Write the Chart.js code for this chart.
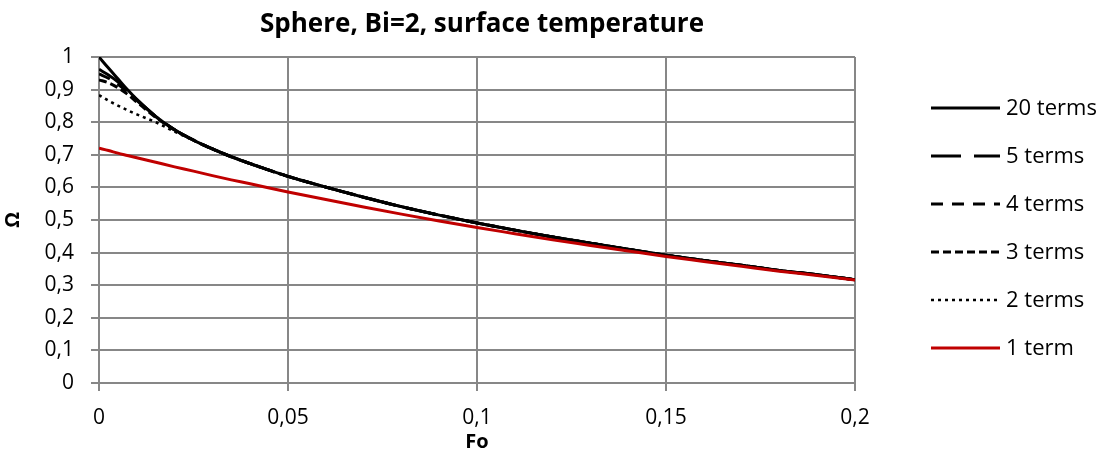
<!DOCTYPE html>
<html>
<head>
<meta charset="utf-8">
<script src="https://cdn.jsdelivr.net/npm/chart.js@4.4.1/dist/chart.umd.min.js"></script>
<style>
  html, body { margin: 0; padding: 0; background: #fff; }
  #wrap { width: 1106px; height: 452px; }
</style>
</head>
<body>
<div id="wrap"><canvas id="chart" width="1106" height="452"></canvas></div>
<script>
// Sphere, Bi=2 - surface temperature vs Fo, truncated series
const foValues = [0, 0.0025, 0.005, 0.0075, 0.01, 0.015, 0.02, 0.025, 0.03, 0.035, 0.04, 0.05,
  0.06, 0.07, 0.08, 0.09, 0.1, 0.11, 0.12, 0.13, 0.14, 0.15, 0.16, 0.17, 0.18, 0.19, 0.2];

const terms20 = [1.0, 0.966, 0.933, 0.900, 0.870, 0.818, 0.777, 0.745, 0.718, 0.694, 0.673, 0.634,
  0.601, 0.570, 0.541, 0.515, 0.491, 0.469, 0.448, 0.429, 0.410, 0.392, 0.376, 0.361, 0.345, 0.332, 0.317];
const terms5 = [0.962, 0.945, 0.924, 0.897, 0.869, 0.818, 0.777, 0.745, 0.718, 0.694, 0.673, 0.634,
  0.601, 0.570, 0.541, 0.515, 0.491, 0.469, 0.448, 0.429, 0.410, 0.392, 0.376, 0.361, 0.345, 0.332, 0.317];
const terms4 = [0.948, 0.935, 0.916, 0.893, 0.867, 0.817, 0.777, 0.745, 0.718, 0.694, 0.673, 0.634,
  0.601, 0.570, 0.541, 0.515, 0.491, 0.469, 0.448, 0.429, 0.410, 0.392, 0.376, 0.361, 0.345, 0.332, 0.317];
const terms3 = [0.930, 0.921, 0.906, 0.886, 0.862, 0.815, 0.776, 0.745, 0.718, 0.694, 0.673, 0.634,
  0.601, 0.570, 0.541, 0.515, 0.491, 0.469, 0.448, 0.429, 0.410, 0.392, 0.376, 0.361, 0.345, 0.332, 0.317];
const terms2 = [0.883, 0.866, 0.851, 0.837, 0.824, 0.800, 0.771, 0.744, 0.717, 0.694, 0.672, 0.633,
  0.601, 0.570, 0.541, 0.515, 0.491, 0.469, 0.448, 0.429, 0.410, 0.392, 0.376, 0.361, 0.345, 0.332, 0.317];
const terms1 = [0.720, 0.713, 0.705, 0.698, 0.691, 0.677, 0.663, 0.650, 0.636, 0.623, 0.611, 0.586,
  0.563, 0.540, 0.518, 0.497, 0.477, 0.458, 0.439, 0.422, 0.405, 0.388, 0.373, 0.358, 0.343, 0.330, 0.316];

const seriesLabels = ['20 terms', '5 terms', '4 terms', '3 terms', '2 terms', '1 term'];
const seriesValues = [terms20, terms5, terms4, terms3, terms2, terms1];
const seriesDash = [[], [30, 13], [12, 9], [8, 4], [3, 4], []];
const seriesColor = ['#000000', '#000000', '#000000', '#000000', '#000000', '#C00000'];

const FONT = '"Open Sans", "Liberation Sans", sans-serif';
const GRID = '#878787';

function toPoints(values) {
  return foValues.map((fo, i) => ({ x: fo, y: values[i] }));
}

function commaNum(v) {
  return String(Math.round(v * 100) / 100).replace('.', ',');
}

const datasets = seriesLabels.map((label, i) => ({
  label: label,
  data: toPoints(seriesValues[i]),
  borderColor: seriesColor[i],
  backgroundColor: seriesColor[i],
  borderWidth: i === 4 ? 2.6 : 3,
  borderDash: seriesDash[i],
  pointRadius: 0,
  fill: false,
  cubicInterpolationMode: 'monotone',
  order: seriesLabels.length - i
}));

// title + legend drawn by hand, Excel style
const textPlugin = {
  id: 'textPlugin',
  afterDraw(chart) {
    const ctx = chart.ctx;
    ctx.save();
    ctx.fillStyle = '#000';
    ctx.font = 'bold 26px ' + FONT;
    ctx.textAlign = 'center';
    ctx.textBaseline = 'middle';
    ctx.fillText('Sphere, Bi=2, surface temperature', 482, 25);

    ctx.font = '22px ' + FONT;
    ctx.textAlign = 'left';
    chart.data.datasets.forEach((ds, i) => {
      const y = 108 + i * 48;
      ctx.beginPath();
      ctx.strokeStyle = ds.borderColor;
      ctx.lineWidth = ds.borderWidth;
      ctx.setLineDash(ds.borderDash || []);
      ctx.moveTo(931, y);
      ctx.lineTo(1000, y);
      ctx.stroke();
      ctx.setLineDash([]);
      ctx.fillText(ds.label, 1006, y + 1);
    });
    ctx.restore();
  }
};

new Chart(document.getElementById('chart'), {
  type: 'line',
  data: { datasets: datasets },
  plugins: [textPlugin],
  options: {
    responsive: false,
    animation: false,
    layout: { padding: { top: 57, right: 251, left: 0, bottom: 0 } },
    plugins: {
      legend: { display: false },
      title: { display: false },
      tooltip: { enabled: false }
    },
    scales: {
      x: {
        type: 'linear',
        min: 0,
        max: 0.2,
        afterFit: scale => { scale.height = 69; },
        ticks: {
          stepSize: 0.05,
          color: '#000',
          font: { family: FONT, size: 21 },
          padding: 14,
          maxRotation: 0,
          callback: v => commaNum(v)
        },
        grid: { color: GRID, lineWidth: 2, tickLength: 8 },
        border: { color: GRID, width: 2 },
        title: {
          display: true,
          text: 'Fo',
          color: '#000',
          font: { family: FONT, size: 20, weight: 'bold', lineHeight: 1 },
          padding: { top: 0, bottom: 0 }
        }
      },
      y: {
        min: 0,
        max: 1,
        afterFit: scale => { scale.width = 99; },
        ticks: {
          stepSize: 0.1,
          color: '#000',
          font: { family: FONT, size: 21 },
          padding: 17,
          callback: v => commaNum(v)
        },
        grid: { color: GRID, lineWidth: 2, tickLength: 8 },
        border: { color: GRID, width: 2 },
        title: {
          display: true,
          text: 'Ω',
          color: '#000',
          font: { family: FONT, size: 20, weight: 'bold', lineHeight: 1 },
          padding: { top: 3, bottom: 3 }
        }
      }
    }
  }
});
</script>
</body>
</html>
